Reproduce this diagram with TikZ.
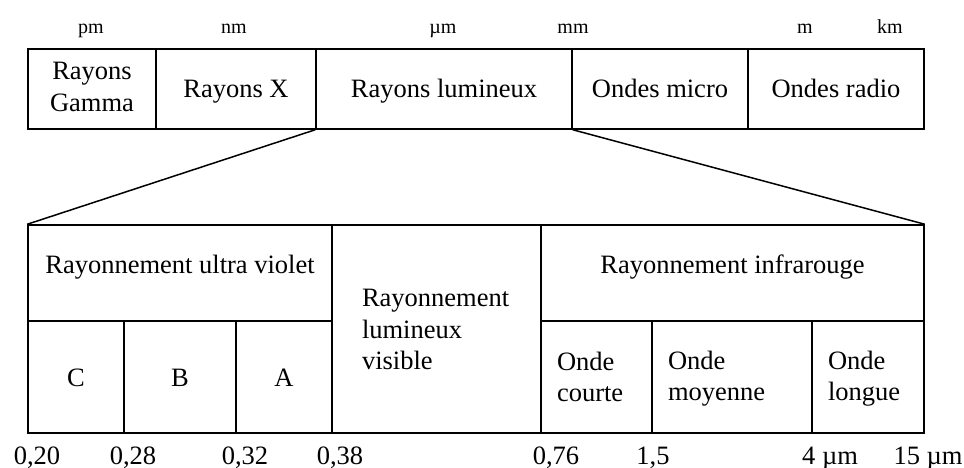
\documentclass[tikz,border=0pt]{standalone}
\usepackage{fontspec}
\setmainfont{Liberation Serif}
\usetikzlibrary{positioning}

\newcommand{\cellstrut}{\rule[-4pt]{0pt}{26pt}}
\newcommand{\midstrut}{\rule[-22pt]{0pt}{44pt}}

\begin{document}
\begin{tikzpicture}[x=1pt, y=-1pt,
        cell/.style={draw, line width=1.5pt, inner sep=0pt, minimum height=#1,
            execute at begin node=\cellstrut, execute at end node=\cellstrut},
        cell/.default=80pt,
        head/.style={cell=96pt, execute at begin node=\midstrut, execute at end node=\midstrut},
        lcell/.style={cell=112pt, align=left, inner xsep=16pt},
        unit/.style={font=\fontsize{20}{24}\selectfont, anchor=base},
        tick/.style={font=\fontsize{26.5}{31.5}\selectfont, anchor=base},
        every node/.append style={font=\fontsize{26.5}{31.5}\selectfont}]
            \useasboundingbox (0, 0) rectangle (964, 468);
            % units
            \node[unit] (pm) at (91, 34) {pm};
            \node[unit] (nm) at (234, 34) {nm};
            \node[unit] (um) at (443, 34) {µm};
            \node[unit] (mm) at (573, 34) {mm};
            \node[unit] (m) at (805, 34) {m};
            \node[unit] (km) at (890, 34) {km};
            % spectrum
            \node[cell, minimum width=128pt, align=center] (gamma) at (92, 89) {Rayons\\Gamma};
            \node[cell, minimum width=160pt] (xray) at (236, 89) {Rayons X};
            \node[cell, minimum width=256pt] (lum) at (444, 89) {Rayons lumineux};
            \node[cell, minimum width=176pt] (micro) at (660, 89) {Ondes micro};
            \node[cell, minimum width=176pt] (radio) at (836, 89) {Ondes radio};
            % zoom
            \node[head, minimum width=304pt] (uv) at (180, 273) {Rayonnement ultra violet};
            \node[cell=112pt, minimum width=96pt] (uvc) at (76, 377) {C};
            \node[cell=112pt, minimum width=112pt] (uvb) at (180, 377) {B};
            \node[cell=112pt, minimum width=96pt] (uva) at (284, 377) {A};
            \node[cell=208pt, align=left, inner xsep=30pt, text width=149pt] (vis) at (436.5, 329) {Rayonnement\\lumineux\\visible};
            \node[head, minimum width=383pt] (ir) at (732.5, 273) {Rayonnement infrarouge};
            \node[lcell, text width=79pt] (irc) at (596.5, 377) {Onde\\courte};
            \node[lcell, text width=128pt] (irm) at (732, 377) {Onde\\moyenne};
            \node[lcell, text width=80pt] (irl) at (868, 377) {Onde\\longue};
            % wavelengths
            \node[tick] (w020) at (37, 464) {0,20};
            \node[tick] (w028) at (133, 464) {0,28};
            \node[tick] (w032) at (245, 464) {0,32};
            \node[tick] (w038) at (340, 464) {0,38};
            \node[tick] (w076) at (556, 464) {0,76};
            \node[tick] (w15) at (653, 464) {1,5};
            \node[tick] (w4) at (830, 464) {4 µm};
            \node[tick] (w150) at (928, 464) {15 µm};

            \draw [line width=1.5pt] (lum.south west) -- (uv.north west);
            \draw [line width=1.5pt] (lum.south east) -- (ir.north east);
        \end{tikzpicture}
\end{document}
